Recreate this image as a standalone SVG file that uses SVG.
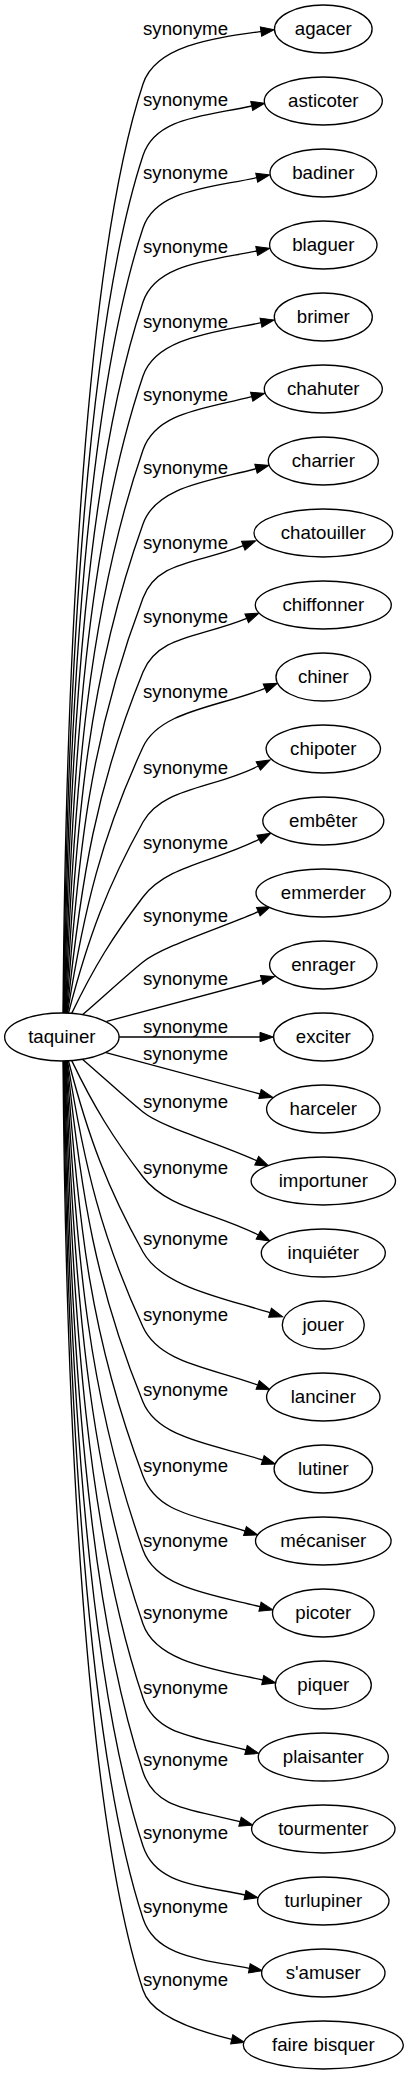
<svg xmlns="http://www.w3.org/2000/svg" width="408" height="2075" viewBox="0 0 408 2075">
<style>
text { font-family: "Liberation Sans", Arial, Helvetica, sans-serif; font-size: 18.67px; fill: #000; }
.node ellipse { fill: #fff; stroke: #000; stroke-width: 1.33; }
.node text { text-anchor: middle; }
.edge path { fill: none; stroke: #000; stroke-width: 1.33; marker-end: url(#arrow); }
.edge text { text-anchor: middle; }
</style>
<defs>
<marker id="arrow" markerUnits="userSpaceOnUse" markerWidth="16" markerHeight="12" viewBox="0 -6 16 12" refX="0" refY="0" orient="auto" overflow="visible">
<path d="M0,-4.67 L13.3,0 L0,4.67 Z" fill="#000" stroke="#000" stroke-width="1"/>
</marker>
</defs>
<rect width="408" height="2075" fill="#fff"/>
<g id="edges">
<g class="edge" id="e-agacer"><path d="M63,1013 C65.9,641 87,253.7 143,84 C155.5,46 211.5,38.4 261,31.5"/><text x="185.5" y="34.6">synonyme</text></g>
<g class="edge" id="e-asticoter"><path d="M63.5,1013 C67.2,670 87.4,324.8 143,155.5 C155.5,117.5 202.8,116.5 251.7,106"/><text x="185.5" y="105.6">synonyme</text></g>
<g class="edge" id="e-badiner"><path d="M64,1013 C68.5,699 87.7,395.4 143,228 C155.5,190 207.8,188.2 256.7,177.7"/><text x="185.5" y="178.6">synonyme</text></g>
<g class="edge" id="e-blaguer"><path d="M64.5,1013 C70,728.6 88.1,466.8 143,302 C155.7,264.1 207.7,261 256.7,251"/><text x="185.5" y="252.6">synonyme</text></g>
<g class="edge" id="e-brimer"><path d="M65,1013 C71.8,758.2 88.4,537.4 143,376 C155.8,338.1 212,332.7 261,322.7"/><text x="185.5" y="327.6">synonyme</text></g>
<g class="edge" id="e-chahuter"><path d="M65.5,1013 C73.7,787.8 88.8,606.5 143,450 C156.1,412.2 203.3,409.1 251.7,396.7"/><text x="185.5" y="400.6">synonyme</text></g>
<g class="edge" id="e-charrier"><path d="M66,1013 C75.9,817.4 89.1,674.3 143,524 C156.5,486.3 207.7,481.6 256,468.7"/><text x="185.5" y="473.6">synonyme</text></g>
<g class="edge" id="e-chatouiller"><path d="M66.5,1013 C78.4,847 90.7,736.3 143,598 C157.1,560.6 196.8,564 243.3,545.7"/><text x="185.5" y="548.6">synonyme</text></g>
<g class="edge" id="e-chiffonner"><path d="M67,1013 C81.2,876.6 96.6,785.7 143,672 C158.1,635 200.5,637.5 246.7,618.3"/><text x="185.5" y="622.6">synonyme</text></g>
<g class="edge" id="e-chiner"><path d="M67.5,1013 C84.4,906.6 102.1,835.7 143,747 C159.8,710.7 218.7,707.1 265,688.3"/><text x="185.5" y="697.6">synonyme</text></g>
<g class="edge" id="e-chipoter"><path d="M68.5,1013 C88.4,936.6 107.5,885.7 143,822 C162.5,787.1 213.8,788.8 258.3,766"/><text x="185.5" y="773.6">synonyme</text></g>
<g class="edge" id="e-embeter"><path d="M71.7,1013.4 C94.1,966.8 113.3,935.8 143,897 C167.3,865.2 214.5,862.1 259,839.3"/><text x="185.5" y="848.6">synonyme</text></g>
<g class="edge" id="e-emmerder"><path d="M82.7,1014.6 C102,998 128,974 143,962 C162.5,946.4 216.9,929.4 258.3,911.7"/><text x="185.5" y="921.6">synonyme</text></g>
<g class="edge" id="e-enrager"><path d="M106.7,1021.4 L261.7,980"/><text x="185.5" y="984.6">synonyme</text></g>
<g class="edge" id="e-exciter"><path d="M119.1,1037 L260,1037"/><text x="185.5" y="1032.6">synonyme</text></g>
<g class="edge" id="e-harceler"><path d="M106,1052.6 L260,1094"/><text x="185.5" y="1059.6">synonyme</text></g>
<g class="edge" id="e-importuner"><path d="M82.7,1059.4 C102,1076 128,1100 143,1112 C162.5,1127.6 215.7,1142.1 256.7,1160.7"/><text x="185.5" y="1107.6">synonyme</text></g>
<g class="edge" id="e-inquieter"><path d="M71.7,1060.6 C94.1,1107.2 113.3,1138.2 143,1177 C167.3,1208.8 213.9,1212 258.3,1235"/><text x="185.5" y="1173.6">synonyme</text></g>
<g class="edge" id="e-jouer"><path d="M68.5,1061 C88.4,1137.4 107.5,1188.3 143,1252 C162.5,1286.9 222.3,1297.7 270,1312.7"/><text x="185.5" y="1244.6">synonyme</text></g>
<g class="edge" id="e-lanciner"><path d="M67.5,1061 C84.4,1167.4 102.1,1238.3 143,1327 C159.8,1363.3 210.8,1367.6 257.7,1385"/><text x="185.5" y="1320.6">synonyme</text></g>
<g class="edge" id="e-lutiner"><path d="M67,1061 C81.2,1197.4 96.6,1288.3 143,1402 C158.1,1439 215.1,1444.5 262.7,1460"/><text x="185.5" y="1395.6">synonyme</text></g>
<g class="edge" id="e-mecaniser"><path d="M66.5,1061 C78.4,1227 90.7,1337.7 143,1476 C157.1,1513.4 197.3,1516 245,1531"/><text x="185.5" y="1471.6">synonyme</text></g>
<g class="edge" id="e-picoter"><path d="M66,1061 C75.9,1256.6 89.1,1399.7 143,1550 C156.5,1587.7 211.5,1594.7 260,1606.7"/><text x="185.5" y="1546.6">synonyme</text></g>
<g class="edge" id="e-piquer"><path d="M65.5,1061 C73.7,1286.2 88.8,1467.5 143,1624 C156.1,1661.8 213.8,1669.3 262.7,1680"/><text x="185.5" y="1618.6">synonyme</text></g>
<g class="edge" id="e-plaisanter"><path d="M65,1061 C71.8,1315.8 88.4,1536.6 143,1698 C155.8,1735.9 197.7,1737 246,1750"/><text x="185.5" y="1693.6">synonyme</text></g>
<g class="edge" id="e-tourmenter"><path d="M64.5,1061 C70,1345.4 88.1,1607.2 143,1772 C155.7,1809.9 191.7,1808.8 240,1821.7"/><text x="185.5" y="1765.6">synonyme</text></g>
<g class="edge" id="e-turlupiner"><path d="M64,1061 C68.5,1375 87.7,1678.6 143,1846 C155.5,1884 196.1,1884.6 245,1895"/><text x="185.5" y="1838.6">synonyme</text></g>
<g class="edge" id="e-samuser"><path d="M63.5,1061 C67.2,1404 87.4,1749.2 143,1918.5 C155.5,1956.5 200.1,1959.2 249.3,1968.3"/><text x="185.5" y="1912.6">synonyme</text></g>
<g class="edge" id="e-fairebisquer"><path d="M63,1061 C65.9,1433 87,1820.3 143,1990 C150.8,2014.8 192.8,2030 231.7,2039.3"/><text x="185.5" y="1985.6">synonyme</text></g>
</g>
<g class="node" id="n-taquiner"><ellipse cx="61.85" cy="1037" rx="57.2" ry="24"/><text x="61.85" y="1042.6">taquiner</text></g>
<g class="node" id="n-agacer"><ellipse cx="323.3" cy="29" rx="48.8" ry="24"/><text x="323.3" y="34.6">agacer</text></g>
<g class="node" id="n-asticoter"><ellipse cx="323.3" cy="101" rx="59" ry="24"/><text x="323.3" y="106.6">asticoter</text></g>
<g class="node" id="n-badiner"><ellipse cx="323.3" cy="173" rx="53.3" ry="24"/><text x="323.3" y="178.6">badiner</text></g>
<g class="node" id="n-blaguer"><ellipse cx="323.3" cy="245" rx="53.7" ry="24"/><text x="323.3" y="250.6">blaguer</text></g>
<g class="node" id="n-brimer"><ellipse cx="323.3" cy="317" rx="49" ry="24"/><text x="323.3" y="322.6">brimer</text></g>
<g class="node" id="n-chahuter"><ellipse cx="323.3" cy="389" rx="59" ry="24"/><text x="323.3" y="394.6">chahuter</text></g>
<g class="node" id="n-charrier"><ellipse cx="323.3" cy="461" rx="55" ry="24"/><text x="323.3" y="466.6">charrier</text></g>
<g class="node" id="n-chatouiller"><ellipse cx="323.3" cy="533" rx="69.3" ry="24"/><text x="323.3" y="538.6">chatouiller</text></g>
<g class="node" id="n-chiffonner"><ellipse cx="323.3" cy="605" rx="68" ry="24"/><text x="323.3" y="610.6">chiffonner</text></g>
<g class="node" id="n-chiner"><ellipse cx="323.3" cy="677" rx="47.3" ry="24"/><text x="323.3" y="682.6">chiner</text></g>
<g class="node" id="n-chipoter"><ellipse cx="323.3" cy="749" rx="57.2" ry="24"/><text x="323.3" y="754.6">chipoter</text></g>
<g class="node" id="n-embeter"><ellipse cx="323.3" cy="821" rx="60.5" ry="24"/><text x="323.3" y="826.6">embêter</text></g>
<g class="node" id="n-emmerder"><ellipse cx="323.3" cy="893" rx="67.3" ry="24"/><text x="323.3" y="898.6">emmerder</text></g>
<g class="node" id="n-enrager"><ellipse cx="323.3" cy="965" rx="53.7" ry="24"/><text x="323.3" y="970.6">enrager</text></g>
<g class="node" id="n-exciter"><ellipse cx="323.3" cy="1037" rx="49.7" ry="24"/><text x="323.3" y="1042.6">exciter</text></g>
<g class="node" id="n-harceler"><ellipse cx="323.3" cy="1109" rx="56.7" ry="24"/><text x="323.3" y="1114.6">harceler</text></g>
<g class="node" id="n-importuner"><ellipse cx="323.3" cy="1181" rx="72.2" ry="24"/><text x="323.3" y="1186.6">importuner</text></g>
<g class="node" id="n-inquieter"><ellipse cx="323.3" cy="1253" rx="62" ry="24"/><text x="323.3" y="1258.6">inquiéter</text></g>
<g class="node" id="n-jouer"><ellipse cx="323.3" cy="1325" rx="41" ry="24"/><text x="323.3" y="1330.6">jouer</text></g>
<g class="node" id="n-lanciner"><ellipse cx="323.3" cy="1397" rx="56.7" ry="24"/><text x="323.3" y="1402.6">lanciner</text></g>
<g class="node" id="n-lutiner"><ellipse cx="323.3" cy="1469" rx="49.2" ry="24"/><text x="323.3" y="1474.6">lutiner</text></g>
<g class="node" id="n-mecaniser"><ellipse cx="323.3" cy="1541" rx="67.8" ry="24"/><text x="323.3" y="1546.6">mécaniser</text></g>
<g class="node" id="n-picoter"><ellipse cx="323.3" cy="1613" rx="50.8" ry="24"/><text x="323.3" y="1618.6">picoter</text></g>
<g class="node" id="n-piquer"><ellipse cx="323.3" cy="1685" rx="48" ry="24"/><text x="323.3" y="1690.6">piquer</text></g>
<g class="node" id="n-plaisanter"><ellipse cx="323.3" cy="1757" rx="65" ry="24"/><text x="323.3" y="1762.6">plaisanter</text></g>
<g class="node" id="n-tourmenter"><ellipse cx="323.3" cy="1829" rx="71.7" ry="24"/><text x="323.3" y="1834.6">tourmenter</text></g>
<g class="node" id="n-turlupiner"><ellipse cx="323.3" cy="1901" rx="65.7" ry="24"/><text x="323.3" y="1906.6">turlupiner</text></g>
<g class="node" id="n-samuser"><ellipse cx="323.3" cy="1973" rx="61.7" ry="24"/><text x="323.3" y="1978.6">s'amuser</text></g>
<g class="node" id="n-fairebisquer"><ellipse cx="323.3" cy="2045" rx="80" ry="24"/><text x="323.3" y="2050.6">faire bisquer</text></g>
</svg>
